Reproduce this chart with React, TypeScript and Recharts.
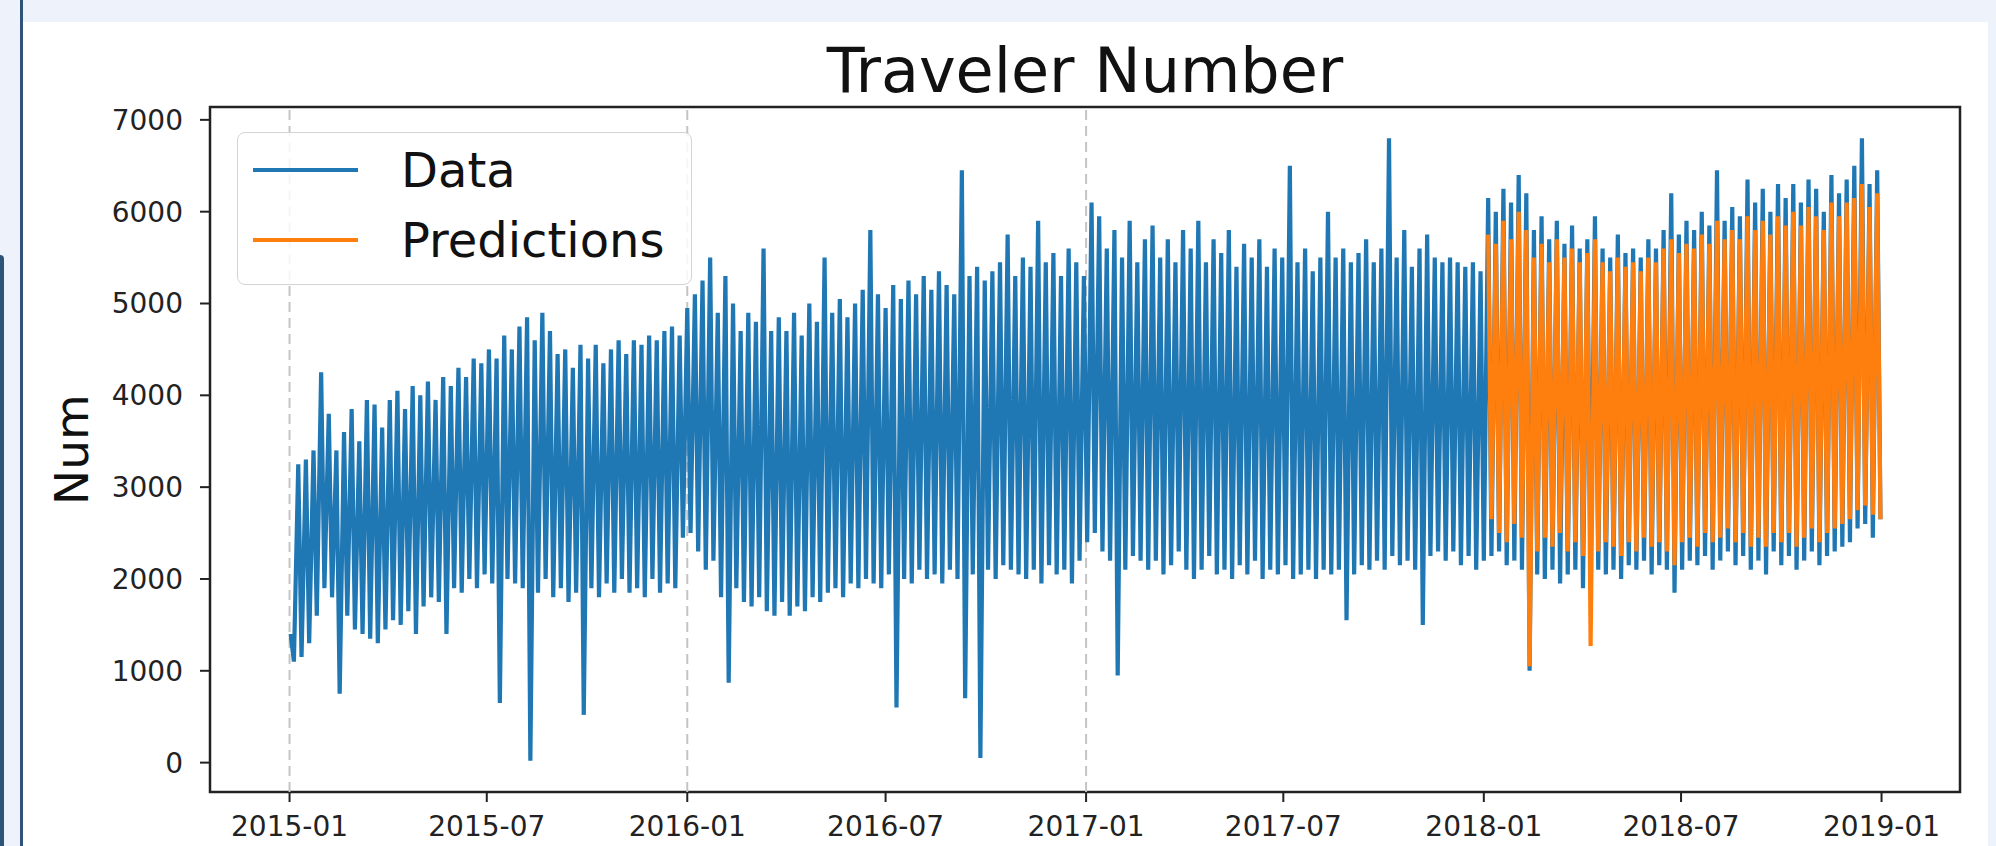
import {
  LineChart,
  Line,
  XAxis,
  YAxis,
  ReferenceLine,
  ReferenceArea,
  Legend,
} from "recharts";

/* ================= DATA ================= */

// one weekday peak and one weekend low per week
// (weeks counted from 2015-01-01)
const peaks2015 = [
  1400, 3250, 3300, 3400, 4250, 3800, 3400, 3600, 3850, 3500,
  3950, 3900, 3650, 3950, 4050, 3850, 4100, 4000, 4150, 3950,
  4200, 4100, 4300, 4200, 4400, 4350, 4500, 4400, 4650, 4500,
  4750, 4850, 4600, 4900, 4700, 4450, 4500, 4300, 4550, 4400,
  4550, 4350, 4500, 4600, 4450, 4600, 4550, 4650, 4600, 4700,
  4750, 4650,
];
const lows2015 = [
  1100, 1150, 1300, 1600, 1900, 1800, 750, 1600, 1450, 1400,
  1350, 1300, 1450, 1550, 1500, 1650, 1400, 1700, 1800, 1750,
  1400, 1900, 1850, 2000, 1900, 2050, 1950, 650, 2000, 1950,
  1900, 20, 1850, 2000, 1800, 1900, 1750, 1850, 520, 1900,
  1800, 1950, 1850, 2000, 1850, 1900, 1800, 2000, 1850, 1950,
  1900, 2450,
];
const peaks2016 = [
  4950, 5100, 5250, 5500, 4900, 5300, 5000, 4700, 4900, 4800,
  5600, 4700, 4850, 4700, 4900, 4650, 5000, 4800, 5500, 4900,
  5050, 4850, 5000, 5150, 5800, 5100, 4950, 5200, 5050, 5250,
  5100, 5300, 5150, 5350, 5200, 5100, 6450, 5300, 5400, 5250,
  5350, 5450, 5750, 5300, 5500, 5400, 5900, 5450, 5550, 5300,
  5600, 5450,
];
const lows2016 = [
  2500, 2300, 2100, 2200, 1800, 870, 1900, 1750, 1700, 1800,
  1650, 1600, 1750, 1600, 1700, 1650, 1800, 1750, 1850, 1900,
  1800, 1950, 1900, 2000, 1950, 1900, 2050, 600, 2000, 1950,
  2100, 2000, 2050, 1950, 2100, 2000, 700, 2050, 50, 2100,
  2000, 2150, 2100, 2050, 2000, 2100, 1950, 2150, 2050, 2100,
  1950, 2200,
];
const peaks2017 = [
  5300, 6100, 5950, 5600, 5800, 5500, 5900, 5450, 5700, 5850,
  5500, 5700, 5450, 5800, 5600, 5900, 5450, 5700, 5550, 5800,
  5400, 5650, 5500, 5700, 5400, 5600, 5500, 6500, 5450, 5600,
  5350, 5500, 6000, 5500, 5600, 5450, 5550, 5700, 5450, 5600,
  6800, 5500, 5800, 5400, 5600, 5750, 5500, 5450, 5500, 5450,
  5400, 5450, 5350,
];
const lows2017 = [
  2400, 2500, 2300, 2200, 950, 2100, 2250, 2200, 2100, 2200,
  2050, 2150, 2300, 2100, 2000, 2100, 2250, 2050, 2100, 2000,
  2150, 2050, 2200, 2000, 2100, 2050, 2150, 2000, 2050, 2100,
  2000, 2100, 2050, 2100, 1550, 2050, 2150, 2100, 2200, 2100,
  2250, 2150, 2200, 2100, 1500, 2250, 2300, 2200, 2300, 2150,
  2250, 2100, 2200,
];
const peaks2018 = [
  6150, 6000, 6250, 6100, 6400, 6200, 5800, 5950, 5700, 5900,
  5650, 5850, 5600, 5700, 5950, 5600, 5500, 5750, 5550, 5600,
  5500, 5700, 5600, 5800, 6200, 5750, 5900, 5800, 6000, 5850,
  6450, 5900, 6050, 5950, 6350, 6100, 6250, 6000, 6300, 6150,
  6300, 6100, 6350, 6250, 6000, 6400, 6200, 6350, 6500, 6800,
  6300, 6450,
];
const lows2018 = [
  2250, 2300, 2150, 2200, 2100, 1000, 2050, 2000, 2100, 1950,
  2050, 2100, 1900, 2000, 2100, 2050, 2100, 2000, 2150, 2100,
  2200, 2050, 2150, 2100, 1850, 2100, 2200, 2150, 2250, 2100,
  2200, 2300, 2150, 2250, 2100, 2200, 2050, 2300, 2150, 2250,
  2100, 2200, 2300, 2150, 2250, 2300, 2350, 2400, 2550, 2600,
  2450, 2650,
];
// predictions cover the 2018 weeks only
const predPeaks2018 = [
  5750, 5650, 5900, 5700, 6000, 5800, 5500, 5650, 5450, 5700,
  5500, 5600, 5450, 5550, 5700, 5450, 5350, 5500, 5400, 5450,
  5350, 5500, 5450, 5600, 5700, 5550, 5650, 5600, 5750, 5650,
  5900, 5700, 5800, 5700, 5950, 5800, 5900, 5750, 5950, 5850,
  6000, 5850, 6050, 5950, 5800, 6100, 5950, 6100, 6150, 6300,
  6050, 6200,
];
const predLows2018 = [
  2650, 2500, 2400, 2600, 2450, 1050, 2300, 2450, 2350, 2500,
  2300, 2400, 2250, 1270, 2300, 2400, 2350, 2250, 2400, 2300,
  2450, 2350, 2400, 2300, 2150, 2400, 2450, 2350, 2500, 2400,
  2450, 2550, 2400, 2500, 2350, 2450, 2350, 2500, 2400, 2500,
  2350, 2450, 2550, 2400, 2500, 2550, 2600, 2650, 2750, 2800,
  2700, 2650,
];

const xTickLabels = [
  "2015-01", "2015-07", "2016-01", "2016-07", "2017-01",
  "2017-07", "2018-01", "2018-07", "2019-01",
];
const dashedAt = ["2015-01", "2016-01", "2017-01"];
const yTicks = [0, 1000, 2000, 3000, 4000, 5000, 6000, 7000];

/* ================= HELPERS ================= */

const FONT = '"DejaVu Sans", "Liberation Sans", sans-serif';
const START = Date.UTC(2015, 0, 1);
const DAY = 86400000;

const dayOf = (ym: string) =>
  (Date.UTC(+ym.slice(0, 4), +ym.slice(5, 7) - 1, 1) - START) / DAY;

const fmtDay = (d: number) => {
  const dt = new Date(START + d * DAY);
  return `${dt.getUTCFullYear()}-${String(dt.getUTCMonth() + 1).padStart(2, "0")}`;
};

const dataPeaks = [...peaks2015, ...peaks2016, ...peaks2017, ...peaks2018];
const dataLows = [...lows2015, ...lows2016, ...lows2017, ...lows2018];
const PRED_FROM = dataPeaks.length - predPeaks2018.length;

const rows = dataPeaks.flatMap((p, k) => {
  const j = k - PRED_FROM;
  return [
    { day: 7 * k + 1, data: p, pred: j >= 0 ? predPeaks2018[j] : null },
    { day: 7 * k + 4, data: dataLows[k], pred: j >= 0 ? predLows2018[j] : null },
  ];
});

const X_DOMAIN = [-73, 1533];
const Y_DOMAIN = [-320, 7140];

const renderLegend = (props: any) => (
  <div style={styles.legendBox}>
    {(props.payload || []).map((e: any) => (
      <div key={e.value} style={styles.legendRow}>
        <span style={{ ...styles.legendLine, background: e.color }} />
        <span>{e.value}</span>
      </div>
    ))}
  </div>
);

/* ================= COMPONENT ================= */

export default function App() {
  return (
    <div style={styles.page}>
      <div style={styles.leftStrip} />
      <div style={styles.sideLine} />
      <div style={styles.panel} />
      <div style={styles.title}>Traveler Number</div>

      <div style={styles.chartBox}>
        <LineChart
          width={1996}
          height={846}
          data={rows}
          margin={{ top: 107, right: 36, bottom: 0, left: 0 }}
        >
          <XAxis
            dataKey="day"
            type="number"
            domain={X_DOMAIN}
            ticks={xTickLabels.map(dayOf)}
            tickFormatter={fmtDay}
            interval={0}
            height={54}
            axisLine={false}
            tickSize={10}
            tickMargin={14}
            tickLine={{ stroke: "#222", strokeWidth: 2 }}
            tick={{ fontSize: 28, fill: "#222", fontFamily: FONT }}
          />
          <YAxis
            type="number"
            domain={Y_DOMAIN}
            ticks={yTicks}
            interval={0}
            width={210}
            axisLine={false}
            tickSize={10}
            tickMargin={17}
            tickLine={{ stroke: "#222", strokeWidth: 2 }}
            tick={{ fontSize: 28, fill: "#222", fontFamily: FONT }}
            label={{
              value: "Num",
              angle: -90,
              position: "insideLeft",
              offset: 71,
              style: { textAnchor: "middle", fontSize: 47, fill: "#111", fontFamily: FONT },
            }}
          />

          {dashedAt.map((ym) => (
            <ReferenceLine
              key={ym}
              x={dayOf(ym)}
              stroke="#c4c4c4"
              strokeWidth={2}
              strokeDasharray="10 6"
            />
          ))}

          <Line
            dataKey="data"
            name="Data"
            stroke="#1f77b4"
            strokeWidth={4.2}
            dot={false}
            activeDot={false}
            isAnimationActive={false}
          />
          <Line
            dataKey="pred"
            name="Predictions"
            stroke="#ff7f0e"
            strokeWidth={4.2}
            dot={false}
            activeDot={false}
            isAnimationActive={false}
          />

          <ReferenceArea
            x1={X_DOMAIN[0]}
            x2={X_DOMAIN[1]}
            y1={Y_DOMAIN[0]}
            y2={Y_DOMAIN[1]}
            fill="none"
            fillOpacity={0}
            stroke="#222"
            strokeWidth={2.5}
          />

          <Legend
            layout="vertical"
            align="center"
            verticalAlign="middle"
            content={renderLegend}
            wrapperStyle={{ left: 237, top: 132, width: 455, height: 153 }}
          />
        </LineChart>
      </div>
    </div>
  );
}

/* ================= STYLES ================= */

const styles: Record<string, React.CSSProperties> = {
  page: {
    position: "absolute",
    left: 0,
    top: 0,
    width: 1996,
    height: 846,
    overflow: "hidden",
    background: "#eef3fb",
  },
  leftStrip: {
    position: "absolute",
    left: 0,
    top: 255,
    width: 4,
    height: 591,
    background: "#2f5279",
    borderTopRightRadius: 4,
  },
  sideLine: {
    position: "absolute",
    left: 20,
    top: 0,
    width: 3,
    height: 846,
    background: "#2f5279",
  },
  panel: {
    position: "absolute",
    left: 23,
    top: 22,
    width: 1965,
    height: 824,
    background: "#ffffff",
  },
  title: {
    position: "absolute",
    left: 210,
    top: 40,
    width: 1750,
    textAlign: "center",
    fontFamily: FONT,
    fontSize: 62,
    lineHeight: "62px",
    color: "#111",
  },
  chartBox: {
    position: "absolute",
    left: 0,
    top: 0,
  },
  legendBox: {
    width: 455,
    height: 153,
    boxSizing: "border-box",
    paddingLeft: 15,
    paddingTop: 2,
    background: "rgba(255,255,255,0.85)",
    border: "1.5px solid #d4d4d4",
    borderRadius: 8,
    fontFamily: FONT,
    fontSize: 48,
    color: "#111",
  },
  legendRow: {
    display: "flex",
    alignItems: "center",
    height: 70,
    lineHeight: "48px",
  },
  legendLine: {
    display: "inline-block",
    width: 105,
    height: 4,
    marginRight: 43,
  },
};
